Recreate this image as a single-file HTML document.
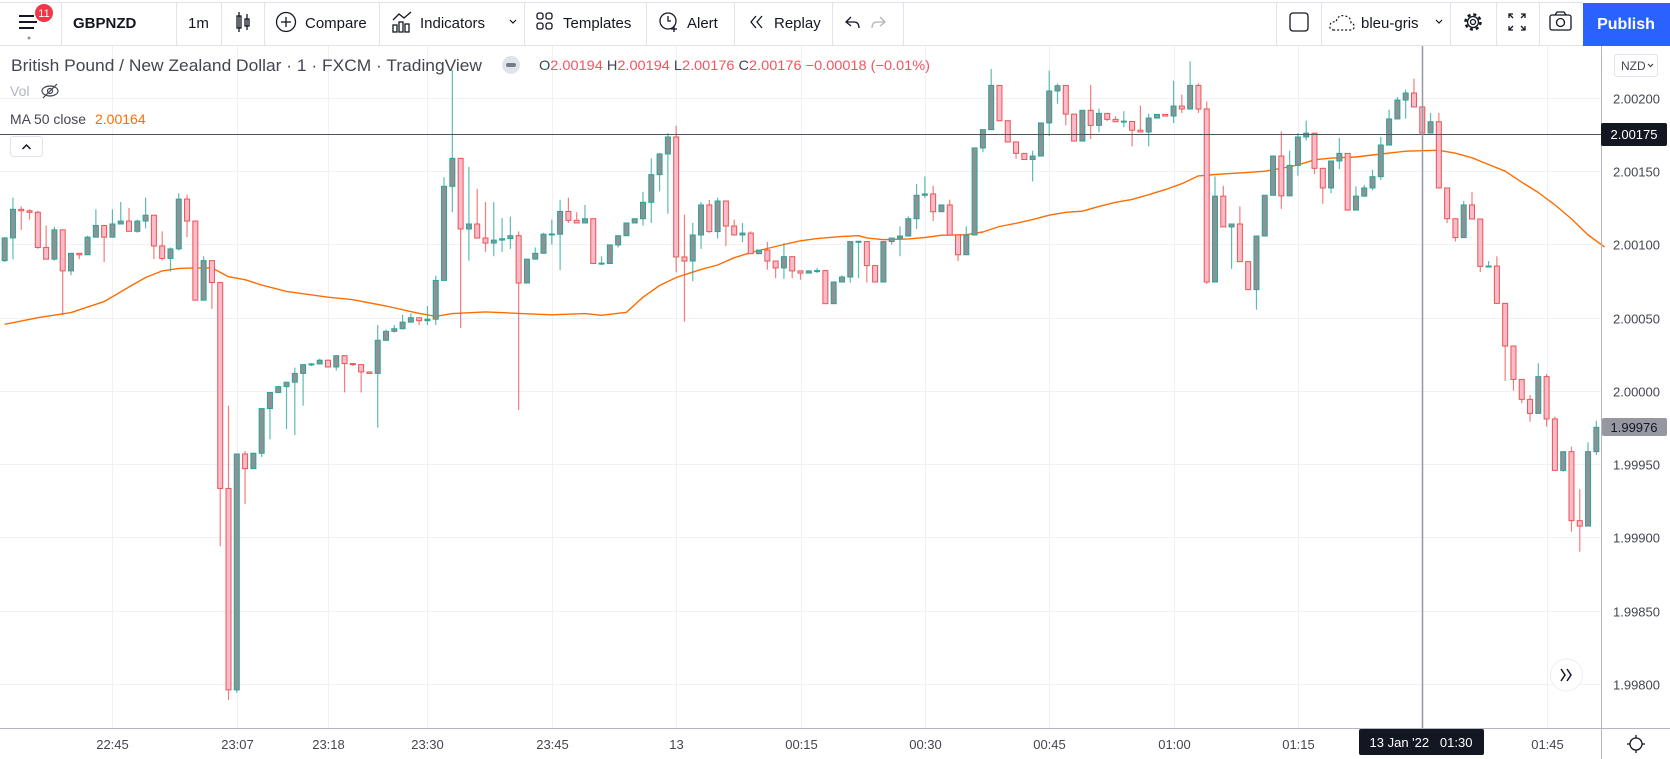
<!DOCTYPE html>
<html><head><meta charset="utf-8">
<style>
html,body{margin:0;padding:0;background:#fff;width:1670px;height:759px;overflow:hidden;font-family:"Liberation Sans",sans-serif;}
svg text{font-family:"Liberation Sans",sans-serif;}
</style></head>
<body>
<svg id="chart" width="1670" height="759" viewBox="0 0 1670 759" xmlns="http://www.w3.org/2000/svg">
  <!-- toolbar -->
  <g>
    <rect x="0" y="0" width="1670" height="46" fill="#fff"/>
    <line x1="0" y1="2.5" x2="1583" y2="2.5" stroke="#e0e3eb"/>
    <line x1="0" y1="45.5" x2="1670" y2="45.5" stroke="#e0e3eb"/>
    <g stroke="#e0e3eb">
      <line x1="61.5" y1="3" x2="61.5" y2="45"/><line x1="176.5" y1="3" x2="176.5" y2="45"/>
      <line x1="221.5" y1="3" x2="221.5" y2="45"/><line x1="264.5" y1="3" x2="264.5" y2="45"/>
      <line x1="379.5" y1="3" x2="379.5" y2="45"/><line x1="524.5" y1="3" x2="524.5" y2="45"/>
      <line x1="646.5" y1="3" x2="646.5" y2="45"/><line x1="734.5" y1="3" x2="734.5" y2="45"/>
      <line x1="832.5" y1="3" x2="832.5" y2="45"/><line x1="903.5" y1="3" x2="903.5" y2="45"/>
      <line x1="1276.5" y1="3" x2="1276.5" y2="45"/><line x1="1321.5" y1="3" x2="1321.5" y2="45"/>
      <line x1="1450.5" y1="3" x2="1450.5" y2="45"/><line x1="1496.5" y1="3" x2="1496.5" y2="45"/>
      <line x1="1539.5" y1="3" x2="1539.5" y2="45"/>
    </g>
    <g>
      <g stroke="#131722" stroke-width="2"><line x1="19" y1="16" x2="34" y2="16"/><line x1="19" y1="22" x2="37" y2="22"/><line x1="19" y1="28" x2="34" y2="28"/></g>
      <circle cx="29" cy="38" r="1.5" fill="#9598a1"/>
      <circle cx="44" cy="13" r="9" fill="#f23645"/>
      <text x="44" y="17" font-size="11" fill="#fff" text-anchor="middle">11</text>
    </g>
    <text x="73" y="28" font-size="15" font-weight="bold" fill="#131722">GBPNZD</text>
    <text x="188" y="28" font-size="15" fill="#131722">1m</text>
    <g stroke="#131722" stroke-width="1.3" fill="none">
      <rect x="237" y="16" width="4" height="12"/><line x1="239" y1="12" x2="239" y2="32"/>
      <rect x="245" y="19" width="4" height="7"/><line x1="247" y1="14" x2="247" y2="30"/>
    </g>
    <g>
      <circle cx="286" cy="22" r="9.5" fill="none" stroke="#131722" stroke-width="1.3"/>
      <line x1="281" y1="22" x2="291" y2="22" stroke="#131722" stroke-width="1.3"/><line x1="286" y1="17" x2="286" y2="27" stroke="#131722" stroke-width="1.3"/>
      <text x="305" y="28" font-size="15" fill="#131722">Compare</text>
    </g>
    <g>
      <g stroke="#131722" stroke-width="1.3" fill="none"><polyline points="393,20 399,14 404,18 411,12"/><rect x="393" y="25" width="4" height="7"/><rect x="399" y="22" width="4" height="10"/><rect x="405" y="24" width="4" height="8"/></g>
      <text x="420" y="28" font-size="15" fill="#131722">Indicators</text>
      <polyline points="510,20 513,23 516,20" fill="none" stroke="#131722" stroke-width="1.2"/>
    </g>
    <g>
      <g fill="none" stroke="#131722" stroke-width="1.3"><rect x="537" y="13" width="6" height="6" rx="2"/><rect x="546" y="13" width="6" height="6" rx="2"/><rect x="537" y="23" width="6" height="6" rx="2"/><rect x="546" y="23" width="6" height="6" rx="2"/></g>
      <text x="563" y="28" font-size="15" fill="#131722">Templates</text>
    </g>
    <g>
      <circle cx="668" cy="21" r="8" fill="none" stroke="#131722" stroke-width="1.3"/>
      <polyline points="668,16 668,21 671,21" fill="none" stroke="#131722" stroke-width="1.3"/>
      <line x1="671" y1="29" x2="677" y2="29" stroke="#131722" stroke-width="1.3"/><line x1="674" y1="26" x2="674" y2="32" stroke="#131722" stroke-width="1.3"/>
      <text x="687" y="28" font-size="15" fill="#131722">Alert</text>
    </g>
    <g>
      <polyline points="756,16 751,22 756,28" fill="none" stroke="#131722" stroke-width="1.3"/><polyline points="762,16 757,22 762,28" fill="none" stroke="#131722" stroke-width="1.3"/>
      <text x="774" y="28" font-size="15" fill="#131722">Replay</text>
    </g>
    <g><path d="M851 17 L846 22 L851 26 M846 22 H854 Q859 22 859 28" fill="none" stroke="#131722" stroke-width="1.3"/></g>
    <g><path d="M880 17 L885 22 L880 26 M885 22 H877 Q872 22 872 28" fill="none" stroke="#b2b5be" stroke-width="1.3"/></g>
    <rect x="1290" y="13" width="18" height="18" rx="3" fill="none" stroke="#131722" stroke-width="1.3"/>
    <g>
      <path d="M1334 30 Q1329 30 1330 25 Q1331 21 1336 22 Q1338 14 1345 16 Q1351 17 1351 23 Q1355 24 1354 28 Q1353 30 1350 30 Z" fill="none" stroke="#131722" stroke-width="1.2" stroke-dasharray="2 2"/>
      <text x="1361" y="28" font-size="15" fill="#131722">bleu-gris</text>
      <polyline points="1436,20 1439,23 1442,20" fill="none" stroke="#131722" stroke-width="1.2"/>
    </g>
    <g><circle cx="1473" cy="22" r="7.5" fill="none" stroke="#131722" stroke-width="2.5" stroke-dasharray="3 2.9"/><circle cx="1473" cy="22" r="5.5" fill="none" stroke="#131722" stroke-width="1.3"/><circle cx="1473" cy="22" r="2.5" fill="none" stroke="#131722" stroke-width="1.3"/></g>
    <g stroke="#131722" stroke-width="1.3" fill="none"><path d="M1509 18 V14 H1513 M1509 14 L1513 18 M1525 18 V14 H1521 M1525 14 L1521 18 M1509 26 V30 H1513 M1509 30 L1513 26 M1525 26 V30 H1521 M1525 30 L1521 26"/></g>
    <g stroke="#131722" stroke-width="1.3" fill="none"><rect x="1550" y="15" width="21" height="15" rx="2"/><circle cx="1560.5" cy="22.5" r="4"/><path d="M1555 15 L1557 12 H1564 L1566 15"/></g>
    <g><rect x="1583" y="3" width="87" height="43" fill="#2962ff"/><text x="1626" y="29" font-size="16" font-weight="bold" fill="#fff" text-anchor="middle">Publish</text></g>
  </g>
  <g id="grid"></g>
  <g id="ma"></g>
  <g id="candles"></g>
  <!-- crosshair -->
  <line x1="0" y1="134.5" x2="1601" y2="134.5" stroke="#50535e" stroke-width="1"/>
  <line id="vcross" x1="1422.5" y1="46" x2="1422.5" y2="728" stroke="#9598a1" stroke-width="1.5"/>
  <!-- legend -->
  <g>
    <text x="11" y="71" font-size="17" fill="#434651" textLength="471" lengthAdjust="spacingAndGlyphs">British Pound / New Zealand Dollar · 1 · FXCM · TradingView</text>
    <g><circle cx="511" cy="65" r="9" fill="#e0e3eb"/><rect x="506" y="63" width="10" height="4" rx="2" fill="#787b86"/></g>
    <text x="539" y="70" font-size="14" fill="#434651" textLength="391" lengthAdjust="spacingAndGlyphs">O<tspan fill="#f7525f">2.00194</tspan> H<tspan fill="#f7525f">2.00194</tspan> L<tspan fill="#f7525f">2.00176</tspan> C<tspan fill="#f7525f">2.00176</tspan> <tspan fill="#f7525f">−0.00018 (−0.01%)</tspan></text>
    <text x="10" y="96" font-size="14" fill="#b2b5be">Vol</text>
    <g fill="none" stroke="#434651" stroke-width="1.2"><ellipse cx="50" cy="91" rx="8" ry="5"/><circle cx="50" cy="91" r="2.5"/><line x1="43" y1="98" x2="57" y2="84"/></g>
    <text x="10" y="124" font-size="14" fill="#434651"><tspan textLength="76" lengthAdjust="spacingAndGlyphs">MA 50 close</tspan><tspan fill="#ff6d00" x="95">2.00164</tspan></text>
    <g><rect x="10.5" y="136.5" width="32" height="20" rx="3" fill="#fff" stroke="#e0e3eb"/><polyline points="22.5,149 26.5,145 30.5,149" fill="none" stroke="#131722" stroke-width="1.5"/></g>
  </g>
  <!-- axes -->
  <line x1="1601.5" y1="46" x2="1601.5" y2="759" stroke="#b2b5be"/>
  <line x1="0" y1="728.5" x2="1670" y2="728.5" stroke="#b2b5be"/>
  <g id="yaxis"></g>
  <g id="xaxis"></g>
  <g><rect x="1614.5" y="54.5" width="43" height="22" rx="3" fill="#fff" stroke="#e0e3eb"/><text x="1621" y="70" font-size="12" fill="#434651">NZD</text><polyline points="1648,64 1650.5,66.5 1653,64" fill="none" stroke="#434651" stroke-width="1.2"/></g>
  <g><rect x="1601" y="123" width="66" height="23" rx="2" fill="#131722"/><text x="1634" y="139" font-size="13" fill="#fff" text-anchor="middle">2.00175</text></g>
  <g><rect x="1602" y="418" width="65" height="18" rx="2" fill="#9598a1"/><text x="1634" y="432" font-size="13" fill="#131722" text-anchor="middle">1.99976</text></g>
  <g><rect x="1359" y="729" width="125" height="26" rx="2" fill="#131722"/><text x="1421" y="747" font-size="13" fill="#fff" text-anchor="middle">13 Jan '22 &#160; 01:30</text></g>
  <g><circle cx="1566.5" cy="675" r="16" fill="#fff" stroke="#eceef2"/><polyline points="1561,669 1565,675 1561,681" fill="none" stroke="#131722" stroke-width="1.5"/><polyline points="1567,669 1571,675 1567,681" fill="none" stroke="#131722" stroke-width="1.5"/></g>
  <g><circle cx="1636" cy="744" r="6" fill="none" stroke="#131722" stroke-width="1.3"/><g stroke="#131722" stroke-width="1.3"><line x1="1636" y1="735" x2="1636" y2="738"/><line x1="1636" y1="750" x2="1636" y2="753"/><line x1="1627" y1="744" x2="1630" y2="744"/><line x1="1642" y1="744" x2="1645" y2="744"/></g></g>
</svg>
<script>
// ---- data (price = 2 + v * 0.00001) ----
const opens = [89,104.5,124,123,122,98,90,110,82,94,93,105,113,105,114,116,109,116,120,99,90.5,97,131,116,62,89,74,-66.5,-204,-43,-53,-42.5,-12,-1,3,6,12,18,18.5,21,16.4,24.1,18.7,18,13,12,34.6,40.7,42.5,47,50,48,49,75.5,139.7,158.8,110.6,114,104.4,101,103,104,106,73.7,90,94,107,107,122.6,116.5,114.7,117.6,87,87,99.7,106,114.7,117.6,128.8,147.7,161.8,173.4,91.5,88.7,106.5,127,108.8,129.7,112.6,106.5,107.8,93.7,96.2,88.7,84,91.7,82,80.5,82,82.2,59.6,74.4,77.8,102,102,85.6,74.4,102,104.4,105.8,117.6,133.6,134.5,122.4,127,106.5,93,106.5,165.9,178.4,208.6,184.5,170,162.2,158,160.4,183,204.8,208.6,189,170.6,191.6,181.3,189.5,185.4,184,184,178,176.8,186.3,188.8,187.7,194.5,192.5,208.6,192.5,74.4,133,112,114,88.3,69.2,105.8,133.6,160.4,133.2,154,173.4,176,152,138.6,157,162.2,123.5,133,138.6,146.3,167.9,185.7,198.6,203.4,193.9,176.1,183.8,138.6,117.6,104.7,127,117.4,85.1,85.3,59.8,30.7,7.9,-5.7,-15.3,9.8,-19.1,-54.2,-41.4,-88.5,-92.2,-41.4];
const highs = [105,132,126,124,123,113,112,110,94,94,106,124,113,124,129,125,117,132,120,109,98,135,134,116,92,89,74,-10,-43,-41,-42,-12,-1,3,6,16,18,19,22,21.4,24.1,24.1,19,18,13,45,42,45,52,53,50,58,78.7,146,219,159,153,138,129,129,118,119,109,90,98,108,117,130.6,132,122,127,117.6,92,99.7,106,114.7,117.6,136,158.8,162.5,176,181,120.4,114.7,129,130.5,132,129.7,117,114.7,109,96.2,101.7,88.7,101,91.7,82,82,84,82.2,74.4,79,102,102,102,85.6,102,104.4,112.4,119.2,141.3,146.5,140,127,130.6,106.5,112.4,165.9,178.4,219.8,208.6,184.5,170,162.2,164,183,218.6,209.8,208.6,189,191.6,208.9,192.7,189.5,187.5,191,184,194.8,189.3,188.8,189,211.8,202.3,225,210,197.7,146.5,140,114,126,88.3,105.8,133.6,160.4,177.2,164,176,184.6,176,152,157,172.7,162.2,139.7,140.8,151,173.4,192,200.7,205.7,213.2,193.9,189.8,189.8,138.6,117.6,129.7,135.8,117.4,88.7,92,59.8,30.7,7.9,-2.7,18.9,11.6,-17.5,-41.4,-38,-67.1,-35,-20.3];
const lows = [88,90,110,117,97,90,89,52,79,90,93,105,88,105,114,109,108,111,90,89,81.5,96,105,62,62,56,-106,-211,-206,-77,-53,-45,-33,-1,-26,-30,-10,17,18,16,14,-1,17,-1,12,-25,34.6,40,42,47,45,45,45,75.5,122,43,89,104.4,95,92,95,97,-13,73.7,90,94,100,82.4,114.7,114.7,114.7,87,86,87,98,106,114.7,113,114.7,136.3,121,81,47.3,75,97,108,104,99,106.5,101.5,93.7,93.7,82.8,77,76.5,77,76,80.5,80.5,59.6,59.6,74.4,74,77,74,74.4,74.4,100,92,105.8,110.6,131.7,116,122.4,106.5,88.7,93,106.5,163,178.4,184.5,170,158.4,158,143,160.4,174,196,181.3,170.6,170.6,172,176.6,184.3,183.8,180,167,176.8,167,186.3,187.7,182.9,189.8,192,189.8,73,74.4,112,83.3,88.3,69.2,55.5,105.8,133.6,124.3,133.2,147,171,148,127.8,135,151.5,123.5,123.5,133,137,144,167.9,185.7,185.9,193.9,176.1,176.1,138.6,114.7,102,104.7,117.4,81.2,85.1,59.8,7,0.2,-8.4,-21,-15.3,-24.4,-54.2,-55,-96,-109.7,-92.2,-43.7];
const closes = [104.5,124,123,122,98,90,110,82,94,93,105,113,105,114,116,109,116,120,99,90.5,97,131,116,62,89,74,-66.5,-204,-43,-53,-42.5,-12,-1,3,6,12,18,18.5,21,16.4,24.1,18.7,18,13,12,34.6,40.7,42.5,47,50,48,49,75.5,139.7,158.8,110.6,114,104.4,101,103,103.9,106,73.7,90,94,107,107.2,122.6,116.5,114.7,117.6,87,87.3,99.7,106,114.7,117.6,128.8,147.7,161.8,173.4,91.5,88.7,106.5,127,108.8,129.7,112.6,106.5,107.8,93.7,96.2,88.7,84,91.7,82,80.5,82,82.2,59.6,74.4,77.8,102,102.2,85.6,74.4,102,104.4,105.8,117.6,133.6,134.5,122.4,127,106.5,93,106.5,165.9,178.4,208.6,184.5,170,162.2,158,160.4,183,204.8,208.4,189,170.6,191.6,181.3,189.5,185.4,183.8,184.2,178,176.8,186.3,188.8,187.7,194.5,192.5,208.6,192.5,74.4,133,112,114,88.3,69.2,105.8,133.6,160.4,133.2,154,173.4,176,152,138.6,157,162.2,123.5,133,138.6,146.3,167.9,185.7,198.6,203.4,193.9,176.1,183.8,138.6,117.6,104.7,127,117.4,85.1,85.3,59.8,30.7,7.9,-5.7,-15.3,9.8,-19.1,-54.2,-41.4,-88.5,-92.2,-41.4,-24.8];
// MA 50 close, sampled at candle indices
const maIndex = [0,4,8,12,15,17,19,21,23,25,27,29,31,34,39,42,46,50,52,54,58,62,66,70,72,75,77,79,81,84,86,88,90,92,94,96,98,101,103,104,106,109,111,113,116,118,120,122,124,126,128,130,132,134,136,138,140,142,144,146,148,150,152,154,156,158,160,163,166,169,171,173,175,177,179,181,183,185,187,189,191,193];
const maValues = [45.5,50,53.5,61,71,77.5,82,83.7,84,84,78,76,72.3,68,64,62.3,58,53,51,52.8,54,53,52,52.8,51.7,53.7,64,72,77.5,83,86,91,94.5,97.3,100,102.5,104,105.5,106,104.5,103.3,103.8,104.8,106.3,106.7,108.5,112.3,114.5,117,120,122,122.7,126,128.8,130.8,134,137.5,141.5,146.8,147.8,148.5,149.2,150,152,154.3,157.8,159,159.7,161.8,163.7,164,164.3,162.3,159.2,154.6,150,142.5,135.5,127,117.5,106.5,98.3];
const priceTicks = [2.002,2.0015,2.001,2.0005,2.0,1.9995,1.999,1.9985,1.998];
const priceTickLabels = ["2.00200","2.00150","2.00100","2.00050","2.00000","1.99950","1.99900","1.99850","1.99800"];
const timeTickIndex = [13,28,39,51,66,81,96,111,126,141,156,171,186];
const timeTickLabels = ["22:45","23:07","23:18","23:30","23:45","13","00:15","00:30","00:45","01:00","01:15","01:30","01:45"];

const NS = "http://www.w3.org/2000/svg";
const X0 = 4.67, STEP = 8.29;
function xOf(i){ return X0 + i*STEP; }
function yOfPrice(p){ return 98 + (2.002 - p)*146500; }
function yOf(v){ return yOfPrice(2 + v*0.00001); }
function mk(tag, attrs, parent){ const e=document.createElementNS(NS,tag); for(const k in attrs) e.setAttribute(k,attrs[k]); parent.appendChild(e); return e; }

const grid = document.getElementById('grid');
const yaxis = document.getElementById('yaxis');
const xaxis = document.getElementById('xaxis');
priceTicks.forEach((p,k)=>{
  const y = Math.round(yOfPrice(p))+0.5;
  const l = mk('line',{x1:0,x2:1601,y1:y,y2:y,stroke:'#eef1f6','stroke-width':1},grid);
  
  
  const t = mk('text',{x:1613,y:y+5,'font-size':13,fill:'#434651'},yaxis);
  t.textContent = priceTickLabels[k];
  
  
});
timeTickIndex.forEach((ix,k)=>{
  const x = Math.round(xOf(ix))+0.5;
  const l = mk('line',{x1:x,x2:x,y1:46,y2:728,stroke:'#eef1f6','stroke-width':1},grid);
  
  
  if (timeTickLabels[k] !== "01:30") {
    const t = mk('text',{x:x,y:749,'font-size':13,fill:'#434651','text-anchor':'middle'},xaxis);
    t.textContent = timeTickLabels[k];
    
    
  }
});

// MA line
const maG = document.getElementById('ma');
const pts = maIndex.map((ix,k)=> xOf(ix).toFixed(1)+','+yOf(maValues[k]).toFixed(1)).join(' ');
const ml = mk('polyline',{points:pts,fill:'none',stroke:'#ff6d00','stroke-width':1.4,'stroke-linejoin':'round'},maG);



// candles
const cg = document.getElementById('candles');
for (let i=0;i<closes.length;i++){
  const x = xOf(i), up = closes[i] >= opens[i];
  const g = mk('g',{},cg);
  
  
  const wickColor = up ? '#26a69a' : '#ef5350';
  mk('line',{x1:x,x2:x,y1:yOf(highs[i]),y2:yOf(lows[i]),stroke:wickColor,'stroke-width':1.2,'stroke-opacity':0.75},g);
  let top = yOf(Math.max(opens[i],closes[i])), bot = yOf(Math.min(opens[i],closes[i]));
  if (bot-top < 1) bot = top+1;
  mk('rect',{x:x-2.5,y:top,width:5,height:bot-top,fill:up?'#8f9194':'#f8bbcb',stroke:up?'#26a69a':'#ef5350','stroke-width':1},g);
}
</script>
</body></html>
